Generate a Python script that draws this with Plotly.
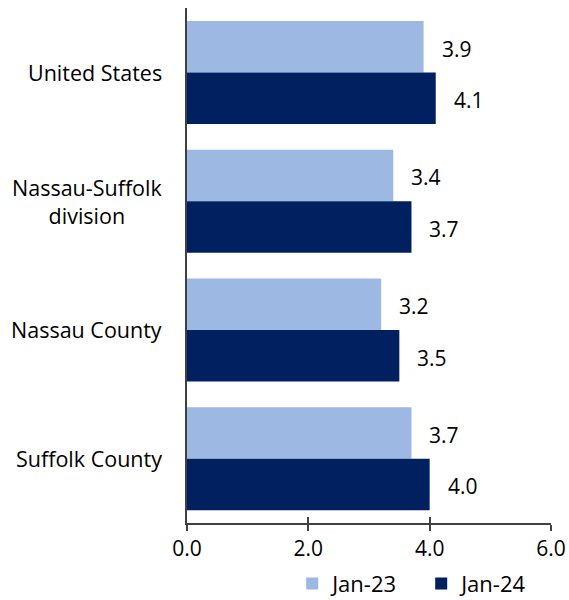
import plotly.graph_objects as go

categories = ["United States", "Nassau-Suffolk<br>division", "Nassau County", "Suffolk County"]
jan23 = [3.9, 3.4, 3.2, 3.7]
jan24 = [4.1, 3.7, 3.5, 4.0]
series_names = ["Jan-23", "Jan-24"]
tick_vals = [0, 2, 4, 6]
tick_text = ["0.0", "2.0", "4.0", "6.0"]

light = "#9DB9E3"
dark = "#002060"
font = "Open Sans, Noto Sans, sans-serif"
fs = 21

fig = go.Figure()
fig.add_trace(go.Bar(y=categories, x=jan23, orientation="h", name=series_names[0],
                     marker=dict(color=light, line=dict(width=0))))
fig.add_trace(go.Bar(y=categories, x=jan24, orientation="h", name=series_names[1],
                     marker=dict(color=dark, line=dict(width=0))))
fig.add_trace(go.Scatter(x=[0, 6], y=[None, None], xaxis="x2", showlegend=False, hoverinfo="skip"))

annotations = []
for vals, off in ((jan23, -0.2), (jan24, 0.2)):
    for i, v in enumerate(vals):
        annotations.append(dict(x=v, y=i + off, xref="x", yref="y", text=f"{v:.1f}",
                                showarrow=False, xanchor="left", xshift=16, yshift=-2,
                                font=dict(size=fs, color="#000000", family=font)))
for i, c in enumerate(categories):
    annotations.append(dict(x=-0.063, y=i, xref="paper", yref="y", text=c, showarrow=False,
                            xanchor="right", align="center",
                            font=dict(size=21.5, color="#000000", family=font)))

fig.update_layout(
    width=569, height=600,
    margin=dict(l=187, r=18, t=8, b=77),
    paper_bgcolor="white", plot_bgcolor="white",
    barmode="group", bargap=0.2, bargroupgap=0,
    font=dict(family=font, size=fs, color="#000000"),
    xaxis=dict(range=[0, 6], tickvals=tick_vals, ticktext=tick_text, showgrid=False,
               zeroline=False, showline=True, linecolor="#404040", linewidth=1.5,
               ticks="outside", ticklen=6, tickcolor="#404040", tickwidth=1.5,
               tickfont=dict(size=fs, family=font), automargin=False),
    xaxis2=dict(range=[0, 6], overlaying="x", side="bottom", tickvals=tick_vals,
                showticklabels=False, showgrid=False, zeroline=False, showline=False,
                ticks="inside", ticklen=6, tickcolor="#404040", tickwidth=1.5, automargin=False),
    yaxis=dict(autorange="reversed", showticklabels=False, showgrid=False, zeroline=False,
               showline=True, linecolor="#404040", linewidth=1.5, ticks="", automargin=False),
    legend=dict(orientation="h", xref="paper", x=0.289, xanchor="left",
                yref="container", y=0.027, yanchor="middle",
                entrywidth=84, entrywidthmode="pixels",
                font=dict(size=22, family=font), traceorder="normal"),
    annotations=annotations,
    showlegend=True,
)
fig.write_html(
    "out.html",
    config={"displayModeBar": False},
    post_script="document.body.style.margin='0';document.documentElement.style.overflow='hidden';",
)
